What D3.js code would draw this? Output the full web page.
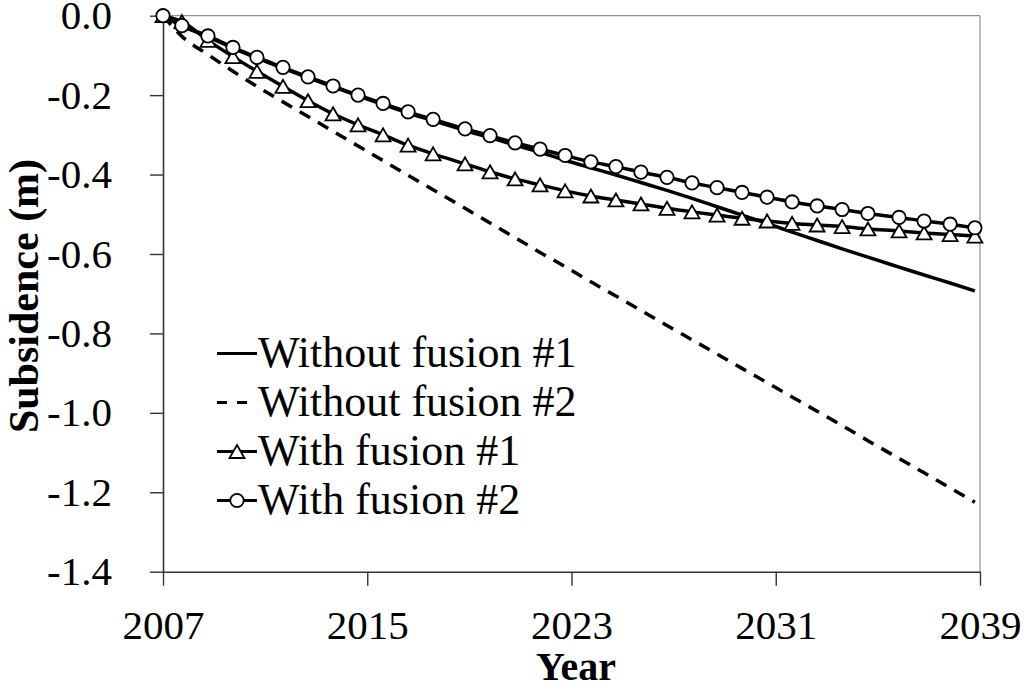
<!DOCTYPE html>
<html>
<head>
<meta charset="utf-8">
<script src="https://cdn.jsdelivr.net/npm/d3@7"></script>
<style>
  html, body { margin: 0; padding: 0; background: #fff; }
  svg text { fill: #000; }
</style>
</head>
<body>
<svg id="chart" width="1024" height="688"></svg>
<script>
'use strict';

// Time of each point (decimal year), shared by all four series
const years = [2007.00, 2007.74, 2008.76, 2009.74, 2010.68, 2011.70, 2012.68, 2013.66, 2014.64,
    2015.62, 2016.60, 2017.58, 2018.83, 2019.81, 2020.79, 2021.77, 2022.75, 2023.76, 2024.74,
    2025.72, 2026.74, 2027.72, 2028.70, 2029.68, 2030.66, 2031.64, 2032.62, 2033.60, 2034.61,
    2035.83, 2036.81, 2037.83, 2038.80];

// Subsidence (m)
const withoutFusion1 = [0, -0.026, -0.053, -0.082, -0.107, -0.132, -0.156, -0.179, -0.202,
    -0.224, -0.245, -0.264, -0.289, -0.307, -0.326, -0.344, -0.364, -0.383, -0.401,
    -0.420, -0.440, -0.460, -0.481, -0.502, -0.523, -0.545, -0.566, -0.587, -0.608,
    -0.633, -0.653, -0.673, -0.693];

const withoutFusion2 = [0, -0.052, -0.098, -0.140, -0.178, -0.217, -0.254, -0.291, -0.328,
    -0.365, -0.402, -0.438, -0.485, -0.522, -0.559, -0.596, -0.632, -0.670, -0.706,
    -0.742, -0.780, -0.816, -0.852, -0.888, -0.924, -0.960, -0.996, -1.032, -1.070,
    -1.115, -1.151, -1.189, -1.225];

const withFusion1 = [0, -0.015, -0.062, -0.103, -0.140, -0.178, -0.214, -0.247, -0.275,
    -0.300, -0.326, -0.348, -0.373, -0.393, -0.411, -0.426, -0.441, -0.454, -0.464,
    -0.474, -0.485, -0.494, -0.502, -0.510, -0.517, -0.523, -0.527, -0.531, -0.537,
    -0.542, -0.547, -0.551, -0.555];

const withFusion2 = [0, -0.025, -0.051, -0.080, -0.105, -0.130, -0.154, -0.177, -0.200,
    -0.221, -0.242, -0.261, -0.285, -0.302, -0.320, -0.336, -0.352, -0.368, -0.380,
    -0.394, -0.407, -0.421, -0.433, -0.445, -0.457, -0.469, -0.479, -0.488, -0.498,
    -0.508, -0.517, -0.525, -0.534];

const seriesNames = ['Without fusion #1', 'Without fusion #2', 'With fusion #1', 'With fusion #2'];
const xTickValues = [2007, 2015, 2023, 2031, 2039];
const yTickValues = [0, -0.2, -0.4, -0.6, -0.8, -1.0, -1.2, -1.4];

const plot = { left: 163, right: 980, top: 15.7, bottom: 571.7 };
const fontFamily = '"Liberation Serif", "Times New Roman", Times, Tinos, "Noto Serif", "DejaVu Serif", FreeSerif, serif';

const svg = d3.select('#chart');

const x = d3.scaleLinear().domain([2007, 2039]).range([plot.left, plot.right]);
const y = d3.scaleLinear().domain([-1.4, 0]).range([plot.bottom, plot.top]);

// Frame (thin top / right)
svg.append('line')
    .attr('x1', plot.left).attr('x2', plot.right)
    .attr('y1', plot.top).attr('y2', plot.top)
    .attr('stroke', '#7a7a7a').attr('stroke-width', 1);
svg.append('line')
    .attr('x1', plot.right).attr('x2', plot.right)
    .attr('y1', plot.top).attr('y2', plot.bottom)
    .attr('stroke', '#7a7a7a').attr('stroke-width', 1);

// Axes
const xAxis = svg.append('g')
    .attr('transform', `translate(0,${plot.bottom})`)
    .call(d3.axisBottom(x).tickValues(xTickValues).tickFormat(d3.format('d'))
        .tickSize(14).tickSizeOuter(0).tickPadding(24));

const yAxis = svg.append('g')
    .attr('transform', `translate(${plot.left},0)`)
    .call(d3.axisLeft(y).tickValues(yTickValues).tickFormat(d => d.toFixed(1))
        .tickSize(13).tickSizeOuter(0).tickPadding(38));

[xAxis, yAxis].forEach(g => {
    g.attr('font-family', fontFamily);
    g.select('.domain').attr('stroke', '#333').attr('stroke-width', 1.6);
    g.selectAll('.tick line').attr('stroke', '#333').attr('stroke-width', 1.4);
    g.selectAll('.tick text')
        .attr('fill', '#000')
        .attr('font-family', fontFamily)
        .attr('font-size', 41);
});

// Axis titles
svg.append('text')
    .attr('x', 576).attr('y', 680)
    .attr('text-anchor', 'middle')
    .attr('font-family', fontFamily)
    .attr('font-size', 40).attr('font-weight', 'bold')
    .text('Year');

svg.append('text')
    .attr('transform', 'translate(38,296) rotate(-90)')
    .attr('text-anchor', 'middle')
    .attr('font-family', fontFamily)
    .attr('font-size', 42).attr('font-weight', 'bold')
    .text('Subsidence (m)');

// Series
const lineGen = d3.line()
    .x((d, i) => x(years[i]))
    .y(d => y(d))
    .curve(d3.curveMonotoneX);

const triangle = (w, h) => `M0,${-h / 2}L${w / 2},${h / 2}L${-w / 2},${h / 2}Z`;

const series = [
    { values: withoutFusion1, dash: null, marker: null },
    { values: withoutFusion2, dash: '12,9', marker: null },
    { values: withFusion1, dash: null, marker: 'triangle' },
    { values: withFusion2, dash: null, marker: 'circle' }
];

series.forEach(s => {
    const g = svg.append('g');
    g.append('path')
        .datum(s.values)
        .attr('d', lineGen)
        .attr('fill', 'none')
        .attr('stroke', '#000')
        .attr('stroke-width', 3.5)
        .attr('stroke-dasharray', s.dash);

    if (s.marker === 'triangle') {
        g.selectAll('path.mk')
            .data(s.values)
            .join('path')
            .attr('class', 'mk')
            .attr('transform', (d, i) => `translate(${x(years[i])},${y(d)})`)
            .attr('d', triangle(15, 13))
            .attr('fill', '#fff').attr('stroke', '#000').attr('stroke-width', 1.8);
    } else if (s.marker === 'circle') {
        g.selectAll('circle.mk')
            .data(s.values)
            .join('circle')
            .attr('class', 'mk')
            .attr('cx', (d, i) => x(years[i]))
            .attr('cy', d => y(d))
            .attr('r', 6.7)
            .attr('fill', '#fff').attr('stroke', '#000').attr('stroke-width', 1.8);
    }
});

// Legend
const legend = svg.append('g').attr('transform', 'translate(217,367)');
const rowGap = 49;

series.forEach((s, i) => {
    const row = legend.append('g').attr('transform', `translate(0,${i * rowGap})`);
    row.append('line')
        .attr('x1', 0).attr('x2', 40)
        .attr('y1', -13.5).attr('y2', -13.5)
        .attr('stroke', '#000').attr('stroke-width', 3)
        .attr('stroke-dasharray', s.dash ? '10,10' : null);
    if (s.marker === 'triangle') {
        row.append('path')
            .attr('transform', 'translate(20,-13.5)')
            .attr('d', triangle(15, 13))
            .attr('fill', '#fff').attr('stroke', '#000').attr('stroke-width', 1.8);
    } else if (s.marker === 'circle') {
        row.append('circle')
            .attr('cx', 20).attr('cy', -13.5).attr('r', 6.7)
            .attr('fill', '#fff').attr('stroke', '#000').attr('stroke-width', 1.8);
    }
    row.append('text')
        .attr('x', 41).attr('y', 0)
        .attr('font-family', fontFamily)
        .attr('font-size', 44)
        .text(seriesNames[i]);
});
</script>
</body>
</html>
